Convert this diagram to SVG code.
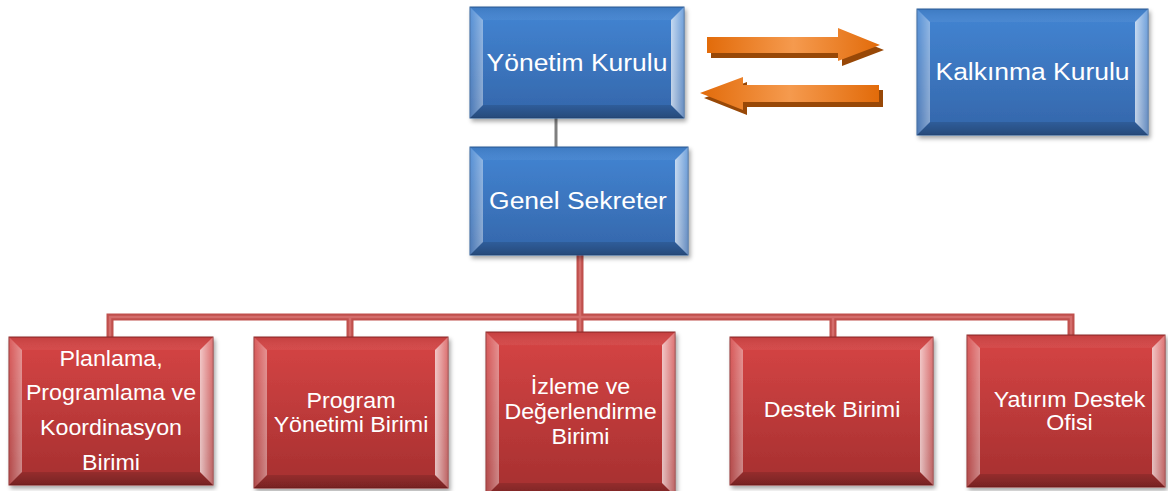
<svg xmlns="http://www.w3.org/2000/svg" width="1168" height="491" viewBox="0 0 1168 491">
<defs>
<linearGradient id="gBlue" x1="0" y1="0" x2="0" y2="1"><stop offset="0" stop-color="#4385d3"/><stop offset="1" stop-color="#3466aa"/></linearGradient>
<linearGradient id="gRed" x1="0" y1="0" x2="0" y2="1"><stop offset="0" stop-color="#d64545"/><stop offset="1" stop-color="#a52f2f"/></linearGradient>
<linearGradient id="gL" x1="0" y1="0" x2="1" y2="0"><stop offset="0" stop-color="#fff" stop-opacity="0.12"/><stop offset="1" stop-color="#fff" stop-opacity="0.42"/></linearGradient>
<linearGradient id="gR" x1="0" y1="0" x2="1" y2="0"><stop offset="0" stop-color="#fff" stop-opacity="0.7"/><stop offset="1" stop-color="#fff" stop-opacity="0.25"/></linearGradient>
<linearGradient id="gT" x1="0" y1="0" x2="0" y2="1"><stop offset="0" stop-color="#000" stop-opacity="0.08"/><stop offset="1" stop-color="#fff" stop-opacity="0.05"/></linearGradient>
<linearGradient id="gB" x1="0" y1="0" x2="0" y2="1"><stop offset="0" stop-color="#000" stop-opacity="0.12"/><stop offset="1" stop-color="#000" stop-opacity="0.28"/></linearGradient>
<linearGradient id="gArrow" x1="0" y1="0" x2="1" y2="0"><stop offset="0" stop-color="#e26b0a"/><stop offset="0.5" stop-color="#f59a4e"/><stop offset="1" stop-color="#e26b0a"/></linearGradient>
<filter id="sh" x="-10%" y="-10%" width="125%" height="130%"><feDropShadow dx="2" dy="3" stdDeviation="2" flood-color="#000" flood-opacity="0.35"/></filter>
</defs>
<style>
.blue{fill:url(#gBlue);stroke:#2f5d98;stroke-width:1}
.red{fill:url(#gRed);stroke:#8e2828;stroke-width:1}
.bl{fill:url(#gL)}
.br{fill:url(#gR)}
.bt{fill:url(#gT)}
.bb{fill:url(#gB)}
.t{font-family:"Liberation Sans",Arial,sans-serif;fill:#fff;text-anchor:middle}
.tb{font-size:24.5px}
.tr{font-size:21.5px}
.c-out{fill:none;stroke:#c0504d;stroke-width:7}
.c-in{fill:none;stroke:#d46d6b;stroke-width:2.5}
.arr{fill:url(#gArrow)}
.arrs{fill:#984807}
</style>

<g id="connectors">
<line x1="556" y1="118" x2="556" y2="147" stroke="#7f7f7f" stroke-width="3"/>
<path class="c-out" d="M580 255V332M110 337V317H1071V335M350 317V337M833 317V337"/>
<path class="c-in" d="M580 255V332M110 337V317H1071V335M350 317V337M833 317V337"/>
</g>

<g id="arrows">
<polygon class="arrs" points="711,42 842,42 842,33 884,50 842,66 842,58 711,58"/>
<polygon class="arr" points="707,37 838,37 838,28 880,45 838,61 838,53 707,53"/>
<polygon class="arrs" points="883,90 747,90 747,82 704,98 747,115 747,107 883,107"/>
<polygon class="arr" points="879,85 743,85 743,77 700,93 743,110 743,102 879,102"/>
</g>

<g id="yonetim-kurulu">
<rect class="blue" x="470" y="7" width="214" height="111" filter="url(#sh)"/>
<polygon class="bt" points="470,7 684,7 671,20 483,20"/>
<polygon class="bb" points="470,118 684,118 671,105 483,105"/>
<polygon class="bl" points="470,7 483,20 483,105 470,118"/>
<polygon class="br" points="671,20 684,7 684,118 671,105"/>
<g transform="translate(577,0) scale(1.08,1)"><text class="t tb" x="0" y="71">Yönetim Kurulu</text></g>
</g>

<g id="kalkinma-kurulu">
<rect class="blue" x="917" y="9" width="231" height="126" filter="url(#sh)"/>
<polygon class="bt" points="917,9 1148,9 1135,22 930,22"/>
<polygon class="bb" points="917,135 1148,135 1135,122 930,122"/>
<polygon class="bl" points="917,9 930,22 930,122 917,135"/>
<polygon class="br" points="1135,22 1148,9 1148,135 1135,122"/>
<g transform="translate(1032.5,0) scale(1.08,1)"><text class="t tb" x="0" y="80">Kalkınma Kurulu</text></g>
</g>

<g id="genel-sekreter">
<rect class="blue" x="470" y="147" width="218" height="108" filter="url(#sh)"/>
<polygon class="bt" points="470,147 688,147 675,160 483,160"/>
<polygon class="bb" points="470,255 688,255 675,242 483,242"/>
<polygon class="bl" points="470,147 483,160 483,242 470,255"/>
<polygon class="br" points="675,160 688,147 688,255 675,242"/>
<g transform="translate(578,0) scale(1.08,1)"><text class="t tb" x="0" y="209">Genel Sekreter</text></g>
</g>

<g id="planlama">
<rect class="red" x="9" y="337" width="204" height="148" filter="url(#sh)"/>
<polygon class="bt" points="9,337 213,337 200,350 22,350"/>
<polygon class="bb" points="9,485 213,485 200,472 22,472"/>
<polygon class="bl" points="9,337 22,350 22,472 9,485"/>
<polygon class="br" points="200,350 213,337 213,485 200,472"/>
<g transform="translate(111,0) scale(1.08,1)"><text class="t tr"><tspan x="0" y="366">Planlama,</tspan><tspan x="0" y="400">Programlama ve</tspan><tspan x="0" y="435">Koordinasyon</tspan><tspan x="0" y="470">Birimi</tspan></text></g>
</g>

<g id="program-yonetimi">
<rect class="red" x="254" y="337" width="194" height="151" filter="url(#sh)"/>
<polygon class="bt" points="254,337 448,337 435,350 267,350"/>
<polygon class="bb" points="254,488 448,488 435,475 267,475"/>
<polygon class="bl" points="254,337 267,350 267,475 254,488"/>
<polygon class="br" points="435,350 448,337 448,488 435,475"/>
<g transform="translate(351,0) scale(1.08,1)"><text class="t tr"><tspan x="0" y="408">Program</tspan><tspan x="0" y="432">Yönetimi Birimi</tspan></text></g>
</g>

<g id="izleme">
<rect class="red" x="486" y="332" width="189" height="164" filter="url(#sh)"/>
<polygon class="bt" points="486,332 675,332 662,345 499,345"/>
<polygon class="bb" points="486,496 675,496 662,483 499,483"/>
<polygon class="bl" points="486,332 499,345 499,483 486,496"/>
<polygon class="br" points="662,345 675,332 675,496 662,483"/>
<g transform="translate(580.5,0) scale(1.08,1)"><text class="t tr"><tspan x="0" y="394">İzleme ve</tspan><tspan x="0" y="419">Değerlendirme</tspan><tspan x="0" y="444">Birimi</tspan></text></g>
</g>

<g id="destek">
<rect class="red" x="730" y="337" width="203" height="148" filter="url(#sh)"/>
<polygon class="bt" points="730,337 933,337 920,350 743,350"/>
<polygon class="bb" points="730,485 933,485 920,472 743,472"/>
<polygon class="bl" points="730,337 743,350 743,472 730,485"/>
<polygon class="br" points="920,350 933,337 933,485 920,472"/>
<g transform="translate(832,0) scale(1.08,1)"><text class="t tr" x="0" y="417">Destek Birimi</text></g>
</g>

<g id="yatirim">
<rect class="red" x="967" y="335" width="198" height="152" filter="url(#sh)"/>
<polygon class="bt" points="967,335 1165,335 1152,348 980,348"/>
<polygon class="bb" points="967,487 1165,487 1152,474 980,474"/>
<polygon class="bl" points="967,335 980,348 980,474 967,487"/>
<polygon class="br" points="1152,348 1165,335 1165,487 1152,474"/>
<g transform="translate(1069.5,0) scale(1.08,1)"><text class="t tr"><tspan x="0" y="407">Yatırım Destek</tspan><tspan x="0" y="430">Ofisi</tspan></text></g>
</g>
</svg>
